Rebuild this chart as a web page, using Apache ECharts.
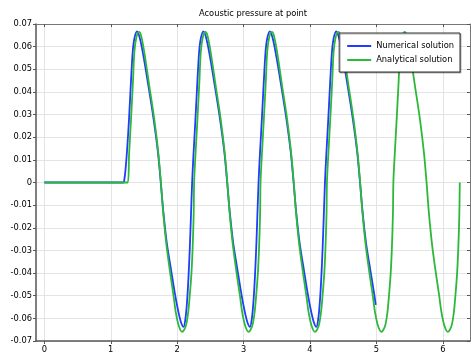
<!DOCTYPE html>
<html>
<head>
<meta charset="utf-8">
<script src="https://cdn.jsdelivr.net/npm/echarts@6/dist/echarts.min.js"></script>
<style>
  html, body { margin: 0; padding: 0; background: #fff; }
  #chart { width: 471px; height: 354px; }
</style>
</head>
<body>
<div id="chart"></div>
<script>
  // values (time, pressure)
  const xTicks = [0, 1, 2, 3, 4, 5, 6]
  const numerical = [
    [0, 0], [1.19, 0], [1.205, 0.0015], [1.22, 0.005], [1.245, 0.014],
    [1.275, 0.028], [1.305, 0.045], [1.33, 0.0575], [1.355, 0.0635], [1.395, 0.0667], [1.435, 0.064], [1.485, 0.057], [1.565, 0.043], [1.645, 0.028], [1.71, 0.0135], [1.75, 0.001], [1.79, -0.0125], [1.845, -0.027], [1.91, -0.039], [1.965, -0.049], [2.01, -0.056], [2.055, -0.0615], [2.095, -0.0638], [2.125, -0.06], [2.15, -0.052], [2.17, -0.042], [2.19, -0.029], [2.207, -0.015],
    [2.225, 0], [2.245, 0.012], [2.275, 0.028], [2.305, 0.045], [2.33, 0.0575], [2.355, 0.0635], [2.395, 0.0667], [2.435, 0.064], [2.485, 0.057], [2.565, 0.043], [2.645, 0.028], [2.71, 0.0135], [2.75, 0.001], [2.79, -0.0125], [2.845, -0.027], [2.91, -0.039], [2.965, -0.049], [3.01, -0.056], [3.055, -0.0615], [3.095, -0.0638], [3.125, -0.06], [3.15, -0.052], [3.17, -0.042], [3.19, -0.029], [3.207, -0.015],
    [3.225, 0], [3.245, 0.012], [3.275, 0.028], [3.305, 0.045], [3.33, 0.0575], [3.355, 0.0635], [3.395, 0.0667], [3.435, 0.064], [3.485, 0.057], [3.565, 0.043], [3.645, 0.028], [3.71, 0.0135], [3.75, 0.001], [3.79, -0.0125], [3.845, -0.027], [3.91, -0.039], [3.965, -0.049], [4.01, -0.056], [4.055, -0.0615], [4.095, -0.0638], [4.125, -0.06], [4.15, -0.052], [4.17, -0.042], [4.19, -0.029], [4.207, -0.015],
    [4.225, 0], [4.245, 0.012], [4.275, 0.028], [4.305, 0.045], [4.33, 0.0575], [4.355, 0.0635], [4.395, 0.0667], [4.435, 0.064], [4.485, 0.057], [4.565, 0.043], [4.645, 0.028], [4.71, 0.0135], [4.75, 0.001], [4.79, -0.0125], [4.845, -0.027], [4.91, -0.039], [4.965, -0.049], [4.99, -0.054]
  ]
  const analytical = [
    [0, 0],
    [1.255, 0], [1.275, 0.012], [1.305, 0.028], [1.335, 0.045], [1.355, 0.0575], [1.385, 0.064], [1.425, 0.0665], [1.455, 0.065], [1.505, 0.0575], [1.58, 0.0427], [1.655, 0.028], [1.715, 0.0133], [1.755, 0], [1.79, -0.0134], [1.84, -0.028], [1.895, -0.04], [1.945, -0.05], [1.98, -0.0575], [2.025, -0.0634], [2.075, -0.066], [2.13, -0.0634], [2.165, -0.0575], [2.189, -0.05], [2.215, -0.04], [2.234, -0.028], [2.249, -0.0134],
    [2.255, 0], [2.275, 0.012], [2.305, 0.028], [2.335, 0.045], [2.355, 0.0575], [2.385, 0.064], [2.425, 0.0665], [2.455, 0.065], [2.505, 0.0575], [2.58, 0.0427], [2.655, 0.028], [2.715, 0.0133], [2.755, 0], [2.79, -0.0134], [2.84, -0.028], [2.895, -0.04], [2.945, -0.05], [2.98, -0.0575], [3.025, -0.0634], [3.075, -0.066], [3.13, -0.0634], [3.165, -0.0575], [3.189, -0.05], [3.215, -0.04], [3.234, -0.028], [3.249, -0.0134],
    [3.255, 0], [3.275, 0.012], [3.305, 0.028], [3.335, 0.045], [3.355, 0.0575], [3.385, 0.064], [3.425, 0.0665], [3.455, 0.065], [3.505, 0.0575], [3.58, 0.0427], [3.655, 0.028], [3.715, 0.0133], [3.755, 0], [3.79, -0.0134], [3.84, -0.028], [3.895, -0.04], [3.945, -0.05], [3.98, -0.0575], [4.025, -0.0634], [4.075, -0.066], [4.13, -0.0634], [4.165, -0.0575], [4.189, -0.05], [4.215, -0.04], [4.234, -0.028], [4.249, -0.0134],
    [4.255, 0], [4.275, 0.012], [4.305, 0.028], [4.335, 0.045], [4.355, 0.0575], [4.385, 0.064], [4.425, 0.0665], [4.455, 0.065], [4.505, 0.0575], [4.58, 0.0427], [4.655, 0.028], [4.715, 0.0133], [4.755, 0], [4.79, -0.0134], [4.84, -0.028], [4.895, -0.04], [4.945, -0.05], [4.98, -0.0575], [5.025, -0.0634], [5.075, -0.066], [5.13, -0.0634], [5.165, -0.0575], [5.189, -0.05], [5.215, -0.04], [5.234, -0.028], [5.249, -0.0134],
    [5.255, 0], [5.275, 0.012], [5.305, 0.028], [5.335, 0.045], [5.355, 0.0575], [5.385, 0.064], [5.425, 0.0665], [5.455, 0.065], [5.505, 0.0575], [5.58, 0.0427], [5.655, 0.028], [5.715, 0.0133], [5.755, 0], [5.79, -0.0134], [5.84, -0.028], [5.895, -0.04], [5.945, -0.05], [5.98, -0.0575], [6.025, -0.0634], [6.075, -0.066], [6.13, -0.0634], [6.165, -0.0575], [6.189, -0.05], [6.215, -0.04], [6.234, -0.028], [6.249, -0.0134],
    [6.255, 0]
  ]

  const font = 'DejaVu Sans'
  const gridColor = '#e4e4e4'
  const axisColor = '#555'

  const chart = echarts.init(document.getElementById('chart'), null, { renderer: 'canvas' })

  function yFmt(v) {
    if (Math.abs(v) < 1e-9) return '0'
    return v.toFixed(2)
  }

  chart.setOption({
    animation: false,
    backgroundColor: '#fff',
    title: {
      text: 'Acoustic pressure at point',
      left: 199,
      top: 10,
      padding: 0,
      textStyle: { fontFamily: font, fontSize: 8.3, fontWeight: 'normal', color: '#000' }
    },
    legend: {
      orient: 'vertical',
      right: 11,
      top: 33,
      padding: [8, 6, 7, 8],
      icon: 'rect',
      itemWidth: 24,
      itemHeight: 2,
      itemGap: 4,
      backgroundColor: '#fff',
      borderColor: '#333',
      borderWidth: 1,
      shadowColor: 'rgba(0,0,0,0.3)',
      shadowOffsetX: 1,
      shadowOffsetY: 1,
      shadowBlur: 0,
      textStyle: { fontFamily: font, fontSize: 8.3, color: '#000', lineHeight: 10 },
      data: ['Numerical solution', 'Analytical solution']
    },
    grid: { left: 36, right: 1, top: 24, bottom: 13, containLabel: false },
    xAxis: [{
      type: 'value',
      position: 'bottom',
      min: -0.1257,
      max: 6.409,
      axisLine: { show: true, onZero: false, lineStyle: { color: axisColor, width: 1.5 } },
      axisTick: { show: true, inside: false, length: 3, customValues: xTicks, lineStyle: { color: axisColor } },
      axisLabel: { customValues: xTicks, margin: 5, fontFamily: font, fontSize: 8.3, color: '#000' },
      splitLine: { show: true, lineStyle: { color: gridColor, width: 1 } }
    }, {
      type: 'value',
      position: 'top',
      min: -0.1257,
      max: 6.409,
      axisLine: { show: true, onZero: false, lineStyle: { color: '#777', width: 1 } },
      axisTick: { show: true, inside: true, length: 3, customValues: xTicks, lineStyle: { color: axisColor } },
      axisLabel: { show: false },
      splitLine: { show: false }
    }],
    yAxis: [{
      type: 'value',
      position: 'left',
      min: -0.07,
      max: 0.07,
      interval: 0.01,
      axisLine: { show: true, onZero: false, lineStyle: { color: axisColor, width: 1.5 } },
      axisTick: { show: true, inside: false, length: 3, lineStyle: { color: axisColor } },
      axisLabel: { margin: 4, formatter: yFmt, fontFamily: font, fontSize: 8.3, color: '#000' },
      splitLine: { show: true, lineStyle: { color: gridColor, width: 1 } }
    }, {
      type: 'value',
      position: 'right',
      min: -0.07,
      max: 0.07,
      interval: 0.01,
      axisLine: { show: true, onZero: false, lineStyle: { color: '#777', width: 1 } },
      axisTick: { show: true, inside: true, length: 3, lineStyle: { color: axisColor } },
      axisLabel: { show: false },
      splitLine: { show: false }
    }],
    series: [{
      name: 'Numerical solution',
      type: 'line',
      xAxisIndex: 0,
      yAxisIndex: 0,
      data: numerical,
      symbol: 'none',
      smooth: 0.3,
      color: '#1f3dff',
      lineStyle: { color: '#1f3dff', width: 1.8 },
      z: 2
    }, {
      name: 'Analytical solution',
      type: 'line',
      xAxisIndex: 0,
      yAxisIndex: 0,
      data: analytical,
      symbol: 'none',
      smooth: 0.3,
      color: '#2db83a',
      lineStyle: { color: '#2db83a', width: 1.8 },
      z: 3
    }]
  })
</script>
</body>
</html>
